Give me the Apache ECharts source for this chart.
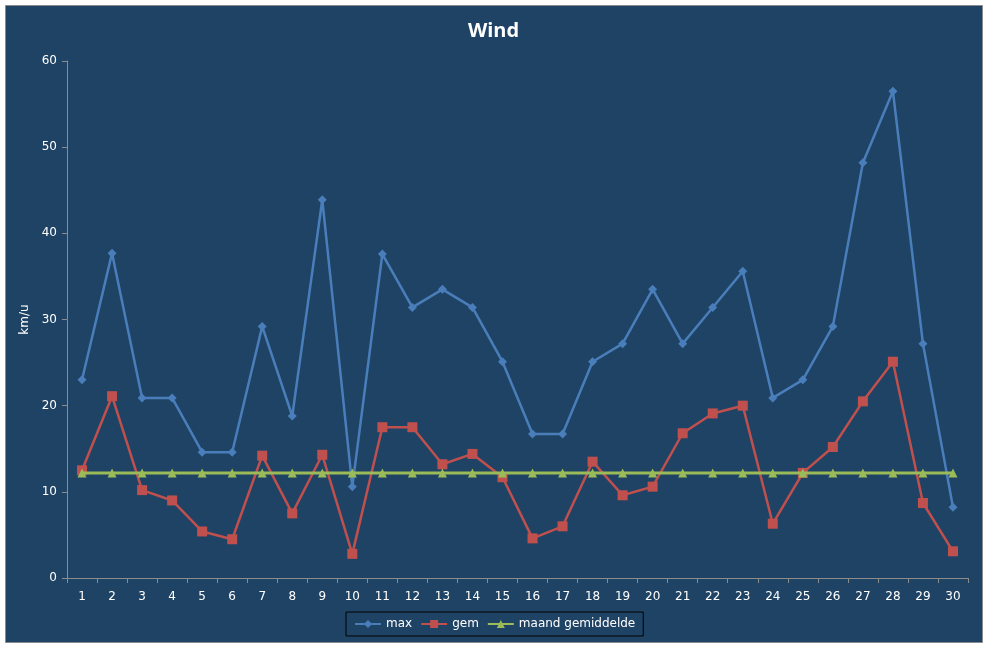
<!DOCTYPE html>
<html>
<head>
<meta charset="utf-8">
<script src="https://cdn.jsdelivr.net/npm/echarts@6/dist/echarts.min.js"></script>
<style>
  html, body { margin: 0; padding: 0; background: #fff; }
  #chart { width: 987px; height: 648px; }
</style>
</head>
<body>
<div id="chart"></div>
<script>
// dagen van de maand
var days = [];
for (var d = 1; d <= 30; d++) days.push(String(d));

// max windsnelheid (km/u)
var maxWind = [23.0, 37.7, 20.9, 20.9, 14.6, 14.6, 29.2, 18.8, 43.9, 10.6,
               37.6, 31.4, 33.5, 31.4, 25.1, 16.7, 16.7, 25.1, 27.2, 33.5,
               27.2, 31.4, 35.6, 20.9, 23.0, 29.2, 48.2, 56.5, 27.2, 8.2];
// gemiddelde windsnelheid (km/u)
var gemWind = [12.5, 21.1, 10.2, 9.0, 5.4, 4.5, 14.2, 7.5, 14.3, 2.8,
               17.5, 17.5, 13.2, 14.4, 11.7, 4.6, 6.0, 13.5, 9.6, 10.6,
               16.8, 19.1, 20.0, 6.3, 12.2, 15.2, 20.5, 25.1, 8.7, 3.1];
// maandgemiddelde
var maandGem = [12.2, 12.2, 12.2, 12.2, 12.2, 12.2, 12.2, 12.2, 12.2, 12.2,
                12.2, 12.2, 12.2, 12.2, 12.2, 12.2, 12.2, 12.2, 12.2, 12.2,
                12.2, 12.2, 12.2, 12.2, 12.2, 12.2, 12.2, 12.2, 12.2, 12.2];

var yTicks = { min: 0, max: 60, interval: 10 };

var bg = '#1f4365';
var txt = '#ffffff';
var font = 'DejaVu Sans';

var myChart = echarts.init(document.getElementById('chart'));
myChart.setOption({
    backgroundColor: '#ffffff',
    animation: false,
    graphic: [{
        type: 'rect',
        z: -10,
        shape: { x: 5.5, y: 5.5, width: 977, height: 637 },
        style: { fill: bg, stroke: '#8a8a8a', lineWidth: 1 }
    }],
    title: {
        text: 'Wind',
        left: 'center',
        top: 16,
        textStyle: { color: txt, fontSize: 20, fontWeight: 'bold', fontFamily: 'Open Sans' }
    },
    legend: {
        left: 346,
        top: 612,
        orient: 'horizontal',
        padding: [6, 8, 6, 8],
        borderColor: '#000000',
        borderWidth: 1,
        itemWidth: 26,
        itemHeight: 10,
        itemGap: 8,
        textStyle: { color: txt, fontSize: 12, fontFamily: font },
        data: ['max', 'gem', 'maand gemiddelde']
    },
    grid: { left: 67, right: 19, top: 61, bottom: 70 },
    xAxis: {
        type: 'category',
        data: days,
        boundaryGap: true,
        axisLine: { lineStyle: { color: '#8c8c8c', width: 1 } },
        axisTick: { show: true, length: 5, lineStyle: { color: '#8c8c8c' } },
        axisLabel: { color: txt, fontSize: 12, fontFamily: font, margin: 13, interval: 0 },
        splitLine: { show: false }
    },
    yAxis: {
        type: 'value',
        min: yTicks.min,
        max: yTicks.max,
        interval: yTicks.interval,
        name: 'km/u',
        nameLocation: 'middle',
        nameGap: 35,
        nameRotate: 90,
        nameTextStyle: { color: txt, fontSize: 12, fontFamily: font },
        axisLine: { show: true, lineStyle: { color: '#8c8c8c', width: 1 } },
        axisTick: { show: true, length: 5, lineStyle: { color: '#8c8c8c' } },
        axisLabel: { color: txt, fontSize: 12, fontFamily: font, margin: 10 },
        splitLine: { show: false }
    },
    series: [{
        name: 'max',
        type: 'line',
        data: maxWind,
        symbol: 'diamond',
        symbolSize: 9,
        lineStyle: { color: '#4a7ebb', width: 2.5 },
        itemStyle: { color: '#4a7ebb' },
        z: 3
    }, {
        name: 'gem',
        type: 'line',
        data: gemWind,
        symbol: 'rect',
        symbolSize: 10,
        lineStyle: { color: '#c0504d', width: 2.5 },
        itemStyle: { color: '#c0504d' },
        z: 2
    }, {
        name: 'maand gemiddelde',
        type: 'line',
        data: maandGem,
        symbol: 'triangle',
        symbolSize: 9,
        lineStyle: { color: '#9bbb59', width: 3 },
        itemStyle: { color: '#9bbb59' },
        z: 4
    }]
});
</script>
</body>
</html>
